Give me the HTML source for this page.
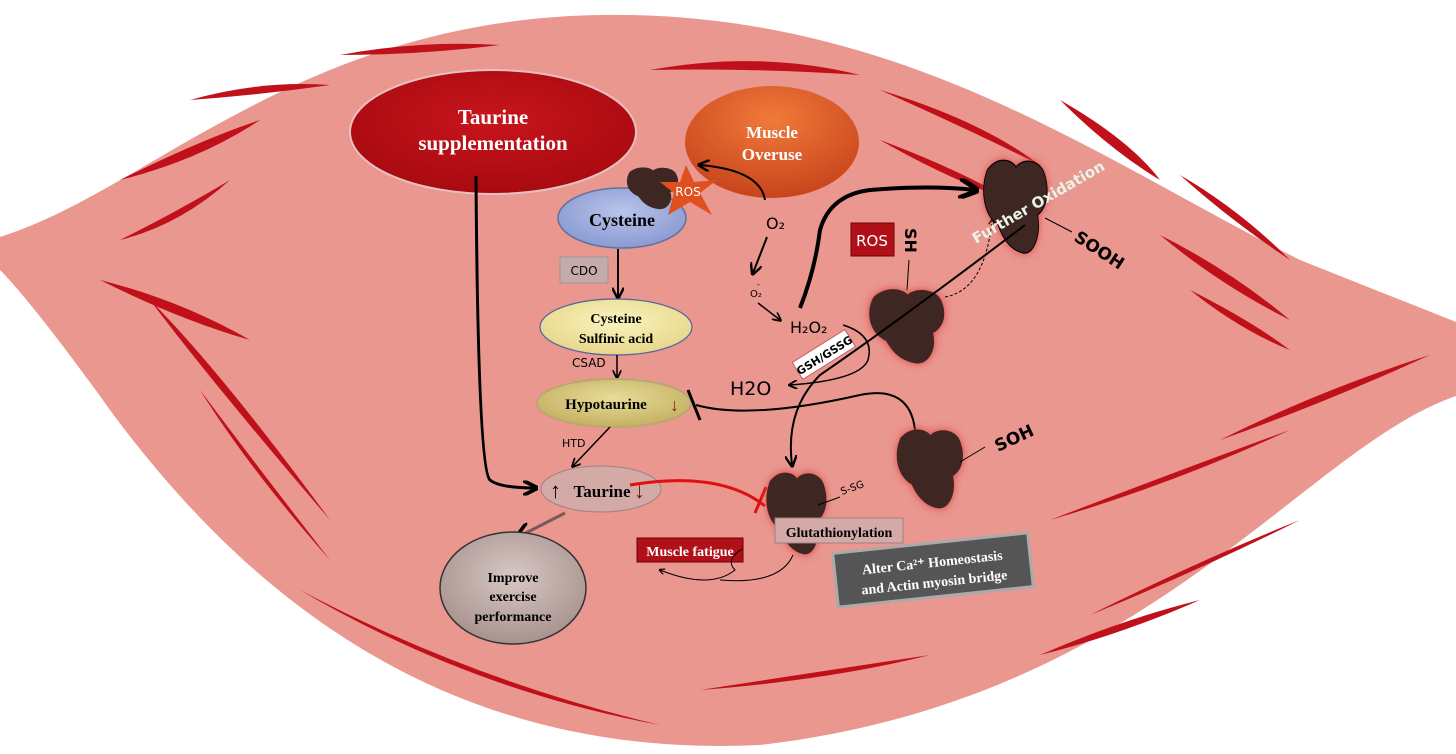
<!DOCTYPE html>
<html><head><meta charset="utf-8"><style>
html,body{margin:0;padding:0;background:#fff}
svg{display:block}
text{font-family:"Liberation Serif",serif}
.s{font-family:"DejaVu Sans","Liberation Sans",sans-serif}
</style></head><body>
<svg width="1456" height="754" viewBox="0 0 1456 754" xmlns="http://www.w3.org/2000/svg">
<defs>
<marker id="a" viewBox="0 0 10 10" refX="8" refY="5" markerWidth="6" markerHeight="6" orient="auto"><path d="M0,0 L10,5 L0,10" fill="none" stroke="#000" stroke-width="2"/></marker>
<marker id="ab" viewBox="0 0 10 10" refX="8" refY="5" markerWidth="5" markerHeight="5" orient="auto"><path d="M0,0 L10,5 L0,10" fill="none" stroke="#000" stroke-width="2.5"/></marker>
<filter id="g" x="-40%" y="-40%" width="180%" height="180%"><feGaussianBlur stdDeviation="5"/></filter>
<path id="blob" d="M10,15 C25,0 45,5 50,12 C60,2 85,5 90,20 C98,40 90,55 80,60 C85,80 75,100 60,98 C40,95 30,80 25,70 C5,60 0,35 10,15Z"/>
<radialGradient id="tr" cx="50%" cy="40%" r="60%"><stop offset="0" stop-color="#c8151c"/><stop offset="1" stop-color="#a80a10"/></radialGradient>
<radialGradient id="mo" cx="50%" cy="30%" r="70%"><stop offset="0" stop-color="#f07a3a"/><stop offset="1" stop-color="#c8441c"/></radialGradient>
<radialGradient id="cy" cx="50%" cy="40%" r="60%"><stop offset="0" stop-color="#b8c4ea"/><stop offset="1" stop-color="#8a9ad2"/></radialGradient>
<radialGradient id="ye" cx="50%" cy="40%" r="60%"><stop offset="0" stop-color="#fbf4c0"/><stop offset="1" stop-color="#e6d68a"/></radialGradient>
<radialGradient id="hy" cx="50%" cy="40%" r="60%"><stop offset="0" stop-color="#e8dc9a"/><stop offset="1" stop-color="#c4b062"/></radialGradient>
<radialGradient id="im" cx="50%" cy="40%" r="60%"><stop offset="0" stop-color="#d8c8c4"/><stop offset="1" stop-color="#a8928e"/></radialGradient>
</defs>
<path d="M0,237 C150,190 300,20 600,15 C900,10 1100,160 1300,260 L1456,322 L1456,396 C1300,450 1150,700 760,745 C450,760 250,600 110,410 C60,340 20,290 0,270 Z" fill="#e9978f"/>
<g fill="#c0101a">
<path d="M340,55 Q420,40 500,45 Q420,55 340,55Z"/>
<path d="M650,70 Q760,50 860,75 Q760,68 650,70Z"/>
<path d="M880,90 Q980,120 1040,165 Q970,130 880,90Z"/>
<path d="M1060,100 Q1130,140 1160,180 Q1110,150 1060,100Z"/>
<path d="M1180,175 Q1240,210 1290,260 Q1230,220 1180,175Z"/>
<path d="M1160,235 Q1230,270 1290,320 Q1220,285 1160,235Z"/>
<path d="M1190,290 Q1250,320 1290,350 Q1240,330 1190,290Z"/>
<path d="M1220,440 Q1320,390 1430,355 Q1320,405 1220,440Z"/>
<path d="M1050,520 Q1180,470 1290,430 Q1170,485 1050,520Z"/>
<path d="M1090,615 Q1200,560 1300,520 Q1200,570 1090,615Z"/>
<path d="M1040,655 Q1120,620 1200,600 Q1120,635 1040,655Z"/>
<path d="M700,690 Q830,670 930,655 Q830,680 700,690Z"/>
<path d="M300,590 Q470,680 660,725 Q470,690 300,590Z"/>
<path d="M150,300 Q220,370 330,520 Q210,380 150,300Z"/>
<path d="M100,280 Q180,300 250,340 Q180,320 100,280Z"/>
<path d="M200,390 Q260,470 330,560 Q250,470 200,390Z"/>
<path d="M120,180 Q200,140 260,120 Q200,160 120,180Z"/>
<path d="M120,240 Q180,210 230,180 Q180,225 120,240Z"/>
<path d="M190,100 Q260,80 330,85 Q260,95 190,100Z"/>
<path d="M880,140 Q960,170 1010,200 Q950,180 880,140Z"/>
</g>
<ellipse cx="493" cy="132" rx="143" ry="62" fill="url(#tr)" stroke="#e8c0c0" stroke-width="2"/>
<text x="493" y="124" font-size="21" font-weight="bold" fill="#fff" text-anchor="middle">Taurine</text>
<text x="493" y="150" font-size="21" font-weight="bold" fill="#fff" text-anchor="middle">supplementation</text>
<ellipse cx="772" cy="142" rx="87" ry="56" fill="url(#mo)"/>
<text x="772" y="138" font-size="17" font-weight="bold" fill="#fff" text-anchor="middle">Muscle</text>
<text x="772" y="160" font-size="17" font-weight="bold" fill="#fff" text-anchor="middle">Overuse</text>
<ellipse cx="622" cy="218" rx="64" ry="30" fill="url(#cy)" stroke="#6070a0" stroke-width="1.5"/>
<use href="#blob" transform="translate(624,165) scale(0.58,0.45)" fill="#3e2622"/>
<polygon points="686,165 694,182 717,180 700,193 712,215 690,202 668,215 674,193 660,182 680,182" fill="#e0501e"/>
<text x="688" y="196" class="s" font-size="12" fill="#fff" text-anchor="middle">ROS</text>
<text x="622" y="226" font-size="18" font-weight="bold" text-anchor="middle">Cysteine</text>
<rect x="560" y="257" width="48" height="26" fill="#c4aaa8" stroke="#999"/>
<text x="584" y="275" class="s" font-size="12" text-anchor="middle">CDO</text>
<line x1="618" y1="249" x2="618" y2="297" stroke="#000" stroke-width="2" marker-end="url(#a)"/>
<ellipse cx="616" cy="327" rx="76" ry="28" fill="url(#ye)" stroke="#5060a0" stroke-width="1.2"/>
<text x="616" y="323" font-size="14" font-weight="bold" text-anchor="middle">Cysteine</text>
<text x="616" y="343" font-size="14" font-weight="bold" text-anchor="middle">Sulfinic acid</text>
<text x="572" y="367" class="s" font-size="12">CSAD</text>
<line x1="617" y1="355" x2="617" y2="377" stroke="#000" stroke-width="1.5" marker-end="url(#a)"/>
<ellipse cx="614" cy="403" rx="77" ry="24" fill="url(#hy)" stroke="#b8a870" stroke-width="2"/>
<text x="606" y="409" font-size="15" font-weight="bold" text-anchor="middle">Hypotaurine</text>
<text x="670" y="411" font-size="18" font-weight="bold" fill="#7a2a10">↓</text>
<line x1="688" y1="390" x2="700" y2="420" stroke="#000" stroke-width="3"/>
<text x="562" y="447" class="s" font-size="11">HTD</text>
<line x1="610" y1="427" x2="573" y2="466" stroke="#000" stroke-width="1.5" marker-end="url(#a)"/>
<ellipse cx="601" cy="489" rx="60" ry="23" fill="#d4aaa6" stroke="#a08080"/>
<text x="550" y="498" font-size="22" font-weight="bold">↑</text>
<text x="602" y="497" font-size="17" font-weight="bold" text-anchor="middle">Taurine</text>
<text x="634" y="498" font-size="22" font-weight="bold" fill="#5a1a10">↓</text>
<path d="M476,176 Q478,470 490,480 Q500,488 535,488" fill="none" stroke="#000" stroke-width="3" marker-end="url(#ab)"/>
<line x1="565" y1="513" x2="518" y2="537" stroke="#7a5a58" stroke-width="3" marker-end="url(#a)"/>
<ellipse cx="513" cy="588" rx="73" ry="56" fill="url(#im)" stroke="#333" stroke-width="1.5"/>
<text x="513" y="582" font-size="14" font-weight="bold" text-anchor="middle">Improve</text>
<text x="513" y="601" font-size="14" font-weight="bold" text-anchor="middle">exercise</text>
<text x="513" y="621" font-size="14" font-weight="bold" text-anchor="middle">performance</text>
<path d="M630,485 Q720,470 765,506" fill="none" stroke="#e01010" stroke-width="3"/>
<line x1="766" y1="487" x2="755" y2="513" stroke="#e01010" stroke-width="3"/>
<path d="M765,200 Q760,170 700,165" fill="none" stroke="#000" stroke-width="2" marker-end="url(#a)"/>
<text x="766" y="229" class="s" font-size="16">O₂</text>
<line x1="767" y1="237" x2="753" y2="273" stroke="#000" stroke-width="2" marker-end="url(#a)"/>
<text x="750" y="297" class="s" font-size="10">O₂</text><text x="757" y="287" class="s" font-size="8">-</text>
<line x1="758" y1="303" x2="780" y2="320" stroke="#000" stroke-width="1.5" marker-end="url(#a)"/>
<text x="790" y="333" class="s" font-size="16">H₂O₂</text>
<path d="M800,308 Q815,270 820,230 Q830,195 870,190 Q930,185 975,190" fill="none" stroke="#000" stroke-width="4" marker-end="url(#ab)"/>
<rect x="851" y="223" width="43" height="33" fill="#b01018" stroke="#700"/>
<text x="872" y="246" class="s" font-size="15" fill="#fff" text-anchor="middle">ROS</text>
<text transform="translate(905,228) rotate(90)" class="s" font-size="16" font-weight="bold">SH</text>
<line x1="909" y1="260" x2="907" y2="290" stroke="#000"/>
<!-- SH protein -->
<use href="#blob" transform="translate(865,285) scale(0.85,0.8)" fill="#e04040" filter="url(#g)"/>
<use href="#blob" transform="translate(865,285) scale(0.85,0.8)" fill="#3e2622"/>
<path d="M945,297 Q985,290 992,220" fill="none" stroke="#000" stroke-dasharray="3,2" marker-end="url(#a)"/>
<path d="M843,325 Q875,335 868,360 Q860,380 790,385" fill="none" stroke="#000" stroke-width="1.5" marker-end="url(#a)"/>
<g transform="translate(823,355) rotate(-32)"><rect x="-30" y="-10" width="62" height="20" fill="#fff" stroke="#c06060"/><text x="1" y="5" class="s" font-size="11" font-weight="bold" text-anchor="middle">GSH/GSSG</text></g>
<text x="730" y="395" class="s" font-size="19">H2O</text>
<path d="M696,405 Q750,420 860,395 Q910,385 915,430" fill="none" stroke="#000" stroke-width="2"/>
<!-- Further oxidation protein -->
<use href="#blob" transform="translate(980,155) scale(0.72,1.0)" fill="#e04040" filter="url(#g)"/>
<use href="#blob" transform="translate(980,155) scale(0.72,1.0)" fill="#3e2622" stroke="#000" stroke-width="1.2"/>
<path d="M1025,225 Q900,320 820,375 Q785,410 792,465" fill="none" stroke="#000" stroke-width="2" marker-end="url(#a)"/>
<text transform="translate(976,244) rotate(-30)" class="s" font-size="15" font-weight="bold" fill="#e8f4ea">Further Oxidation</text>
<line x1="1045" y1="218" x2="1072" y2="232" stroke="#000"/>
<text transform="translate(1073,240) rotate(33)" class="s" font-size="17" font-weight="bold">SOOH</text>
<!-- SOH -->
<use href="#blob" transform="translate(893,425) scale(0.75,0.85)" fill="#e04040" filter="url(#g)"/>
<use href="#blob" transform="translate(893,425) scale(0.75,0.85)" fill="#3e2622"/>
<line x1="960" y1="462" x2="985" y2="447" stroke="#000"/>
<text transform="translate(998,452) rotate(-25)" class="s" font-size="17" font-weight="bold">SOH</text>
<!-- S-SG protein -->
<use href="#blob" transform="translate(763,468) scale(0.68,0.88)" fill="#e04040" filter="url(#g)"/>
<use href="#blob" transform="translate(763,468) scale(0.68,0.88)" fill="#3e2622"/>
<line x1="818" y1="505" x2="840" y2="497" stroke="#000"/>
<text transform="translate(842,495) rotate(-20)" class="s" font-size="10">S-SG</text>
<rect x="775" y="518" width="128" height="25" fill="#d4aaa8" stroke="#a08080"/>
<text x="839" y="537" font-size="14" font-weight="bold" text-anchor="middle">Glutathionylation</text>
<rect x="637" y="538" width="106" height="24" fill="#b01018" stroke="#600"/>
<text x="690" y="556" font-size="14" font-weight="bold" fill="#fff" text-anchor="middle">Muscle fatigue</text>
<path d="M742,549 Q725,560 735,570 Q710,590 660,570" fill="none" stroke="#000" stroke-width="1" marker-end="url(#a)"/>
<path d="M793,555 Q780,585 720,580" fill="none" stroke="#000" stroke-width="1"/>
<g transform="translate(933,570) rotate(-6)"><rect x="-98" y="-27" width="196" height="54" fill="#555" stroke="#aaa" stroke-width="3"/><text x="0" y="-3" font-size="14" font-weight="bold" fill="#fff" text-anchor="middle">Alter Ca²⁺ Homeostasis</text><text x="0" y="17" font-size="14" font-weight="bold" fill="#fff" text-anchor="middle">and Actin myosin bridge</text></g>
</svg>
</body></html>
